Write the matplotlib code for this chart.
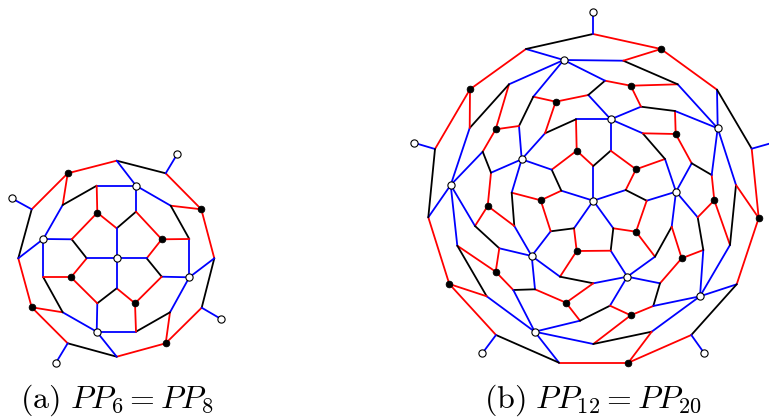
import matplotlib
matplotlib.use("Agg")
import matplotlib.pyplot as plt

plt.rcParams['mathtext.fontset'] = 'cm'

# ---------------- graph (a): PP6 = PP8 ----------------
a_names = ['o1','o2','o3','o4','o5','o6','o7','o8','o9','o10','o11','o12',
           'p2','p5','p8','p11',
           'm1','m2','m3','m4','m5','m6','m7','m8','m9','m10','m11','m12',
           'i1','i2','d1','i3','i4','d2','i5','i6','d3','i7','i8','d4','c']
a_x = [116.7,165.7,201.3,214.3,201.7,165.7,116.7,67.7,31.7,18.3,31.7,67.7,
       177.3,221.0,56.0,11.7,
       136.0,170.7,189.3,189.3,170.0,136.0,96.7,62.7,43.3,43.3,62.7,96.7,
       136.0,116.7,161.7,146.7,161.7,135.0,116.7,97.3,71.0,86.7,71.7,97.3,116.7]
a_y = [160.7,173.3,209.3,258.3,307.7,343.3,356.7,343.3,307.3,258.3,209.3,173.3,
       154.0,319.0,362.7,198.3,
       185.7,205.7,239.0,277.3,312.3,331.7,331.7,312.3,277.3,239.0,205.0,185.7,
       211.7,228.3,239.3,258.3,276.7,303.3,288.3,303.3,277.3,258.3,239.3,212.7,258.3]
a_white = ['m1','m4','m7','m10','c','p2','p5','p8','p11']
a_black = ['o3','o6','o9','o12','d1','d2','d3','d4']
a_edges = [
    ('o1','o2','k'),('o2','o3','r'),('o3','o4','r'),('o4','o5','k'),('o5','o6','r'),
    ('o6','o7','r'),('o7','o8','k'),('o8','o9','r'),('o9','o10','r'),('o10','o11','k'),
    ('o11','o12','r'),('o12','o1','r'),
    ('o2','p2','b'),('o5','p5','b'),('o8','p8','b'),('o11','p11','b'),
    ('o1','m1','b'),('o4','m4','b'),('o7','m7','b'),('o10','m10','b'),
    ('o3','m2','r'),('o6','m5','r'),('o9','m8','r'),('o12','m11','r'),
    ('m1','m2','b'),('m2','m3','k'),('m3','m4','b'),('m4','m5','b'),('m5','m6','k'),
    ('m6','m7','b'),('m7','m8','b'),('m8','m9','k'),('m9','m10','b'),('m10','m11','b'),
    ('m11','m12','k'),('m12','m1','b'),
    ('m1','i1','b'),('m3','d1','r'),('m4','i4','b'),('m6','d2','r'),
    ('m7','i6','b'),('m9','d3','r'),('m10','i8','b'),('m12','d4','r'),
    ('i1','i2','k'),('i1','d1','r'),('d1','i3','r'),('i3','i4','k'),('i4','d2','r'),
    ('d2','i5','r'),('i5','i6','k'),('i6','d3','r'),('d3','i7','r'),('i7','i8','k'),
    ('i8','d4','r'),('d4','i2','r'),
    ('c','i2','b'),('c','i3','b'),('c','i5','b'),('c','i7','b'),
]

# ---------------- graph (b): PP12 = PP20 (five sectors) ----------------
b_center = (593.3, 200.7)
b_x = {
    'A': [593.3,625.7,613.3,574.0,561.3],
    'D': [576.7,636.0,636.0,576.7,540.7],
    'E': [610.7,646.7,610.7,550.7,551.7],
    'F': [576.0,665.0,655.0,560.0,511.7],
    'G': [545.0,642.7,671.7,593.3,514.3],
    'H': [555.7,675.7,681.7,566.0,487.7],
    'I': [588.3,691.7,660.0,535.0,491.0],
    'J': [533.3,675.0,703.3,580.0,475.0],
    'K': [519.0,641.0,697.7,610.0,499.3],
    'L': [495.7,630.7,714.3,630.7,495.7],
    'M': [509.0,677.7,730.0,593.3,457.3],
    'N': [482.7,605.0,711.7,653.3,513.3],
    'P': [469.7,623.3,736.0,651.7,486.7],
    'Q': [470.0,661.0,758.7,628.3,449.3],
    'R': [526.0,717.0,736.7,559.0,428.3],
    'S': [435.0,593.0,751.7,691.3,496.0],
    'T': [413.7,593.0,773.5,704.3,482.3],
    'W': [563.7,717.7,700.0,534.7,450.7],
    'V': [610.7,676.0,627.3,531.7,521.7],
}
b_y = {
    'A': [166.0,190.0,228.3,228.3,190.7],
    'D': [150.7,169.3,231.7,251.0,200.3],
    'E': [150.7,200.7,250.7,231.3,169.7],
    'F': [119.3,159.0,256.7,276.7,192.7],
    'G': [133.3,133.3,226.7,283.3,226.0],
    'H': [101.7,134.0,258.3,302.7,206.0],
    'I': [95.0,163.3,283.3,289.3,172.7],
    'J': [96.7,111.0,250.0,320.7,226.0],
    'K': [126.0,106.7,217.3,305.7,248.3],
    'L': [129.3,85.7,200.3,315.3,271.7],
    'M': [84.3,84.3,245.0,344.0,245.7],
    'N': [151.7,80.7,175.0,306.0,290.0],
    'P': [128.0,60.7,185.0,331.7,296.3],
    'Q': [89.3,49.0,218.0,362.7,284.0],
    'R': [49.0,89.7,284.3,362.7,217.3],
    'S': [149.0,34.0,148.7,335.0,335.0],
    'T': [142.7,11.7,142.5,353.3,353.3],
    'W': [60.0,128.3,296.3,331.7,185.0],
    'V': [119.3,191.7,276.7,256.0,159.3],
}
b_white = ['W','V','T']
b_black = ['D','H','L','Q']
# (node, sector offset, node, sector offset, colour) repeated in each sector
b_pattern = [
    ('A',0,'D',0,'r'),('A',0,'E',0,'k'),('D',0,'E',-1,'r'),('D',0,'F',0,'r'),
    ('E',0,'V',0,'b'),('F',0,'V',0,'b'),('F',0,'G',0,'k'),('G',0,'V',-1,'b'),
    ('G',0,'H',0,'r'),('H',0,'I',0,'r'),('H',0,'J',0,'r'),('I',0,'V',0,'b'),
    ('I',0,'N',1,'k'),('J',0,'W',0,'b'),('J',0,'K',0,'k'),('K',0,'V',-1,'b'),
    ('K',0,'L',0,'r'),('L',0,'M',0,'r'),('L',0,'N',0,'r'),('M',0,'W',0,'b'),
    ('M',0,'P',0,'k'),('N',0,'W',-1,'b'),('P',0,'W',-1,'b'),('P',0,'Q',0,'r'),
    ('Q',0,'R',0,'r'),('Q',0,'S',0,'r'),('R',0,'W',0,'b'),('R',0,'S',1,'k'),
    ('S',0,'T',0,'b'),
]

captions = [r'$\mathrm{(a)}\ PP_6 = PP_8$', r'$\mathrm{(b)}\ PP_{12} = PP_{20}$']
caption_x = [117, 592.5]
caption_y = [400, 400]

colmap = {'r': '#ff0000', 'b': '#0000ff', 'k': '#000000'}
LW = 1.3
MS = 5.2

fig = plt.figure(figsize=(7.69, 4.17), dpi=100)
ax = fig.add_axes([0, 0, 1, 1])
ax.set_xlim(0, 769)
ax.set_ylim(417, 0)
ax.axis('off')

# graph (a)
apos = {n: (x, y) for n, x, y in zip(a_names, a_x, a_y)}
for u, v, c in a_edges:
    ax.plot([apos[u][0], apos[v][0]], [apos[u][1], apos[v][1]], color=colmap[c],
            lw=LW, solid_capstyle='round', zorder=1)
for n in a_white:
    ax.plot(*apos[n], 'o', ms=MS, mfc='white', mec='black', mew=0.8, zorder=3)
for n in a_black:
    ax.plot(*apos[n], 'o', ms=MS - 0.4, mfc='black', mec='black', mew=0.6, zorder=3)

# graph (b)
def bp(name, k):
    return b_x[name][k % 5], b_y[name][k % 5]

for k in range(5):
    ax.plot([b_center[0], b_x['A'][k]], [b_center[1], b_y['A'][k]], color=colmap['b'],
            lw=LW, solid_capstyle='round', zorder=1)
    for u, du, v, dv, c in b_pattern:
        x1, y1 = bp(u, k + du)
        x2, y2 = bp(v, k + dv)
        ax.plot([x1, x2], [y1, y2], color=colmap[c], lw=LW, solid_capstyle='round', zorder=1)
for n in b_white:
    for k in range(5):
        ax.plot(*bp(n, k), 'o', ms=MS, mfc='white', mec='black', mew=0.8, zorder=3)
ax.plot(*b_center, 'o', ms=MS, mfc='white', mec='black', mew=0.8, zorder=3)
for n in b_black:
    for k in range(5):
        ax.plot(*bp(n, k), 'o', ms=MS - 0.4, mfc='black', mec='black', mew=0.6, zorder=3)

for t, x, y in zip(captions, caption_x, caption_y):
    ax.text(x, y, t, ha='center', va='center', fontsize=23, color='black')

fig.savefig('out.png', dpi=100)
